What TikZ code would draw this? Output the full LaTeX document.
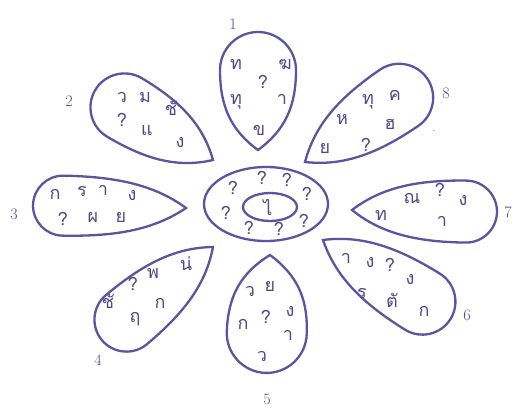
\documentclass[tikz,border=0pt]{standalone}
\usepackage{fontspec}
\newfontfamily\thaifont[Script=Thai]{Loma}
\definecolor{ink}{RGB}{92,84,160}
\definecolor{txt}{RGB}{82,72,135}
\newcommand\petal[5]{%
  \begin{scope}[shift={(#1,#2)},rotate=#3]
    \draw[petalline] (0,0)
      .. controls ({0.25*(#4-#5)},{0.72*#5}) and ({0.55*(#4-#5)},{#5}) .. ({#4-#5},{#5})
      .. controls ({#4-0.45*#5},{#5}) and ({#4},{0.552*#5}) .. ({#4},0)
      .. controls ({#4},{-0.552*#5}) and ({#4-0.45*#5},{-#5}) .. ({#4-#5},{-#5})
      .. controls ({0.55*(#4-#5)},{-#5}) and ({0.25*(#4-#5)},{-0.72*#5}) .. cycle;
  \end{scope}}
\begin{document}
\begin{tikzpicture}[x=1pt,y=-1pt,
  petalline/.style={draw=ink,line width=2.3pt},
  th/.style={text=txt,font=\thaifont\fontsize{18}{18}\selectfont,inner sep=0pt},
  num/.style={text=txt,font=\fontsize{16}{16}\selectfont,inner sep=0pt}]
\useasboundingbox (0,0) rectangle (515,410);
\fill[white] (0,0) rectangle (515,410);
% petals
\petal{258}{150}{90}{118}{38}
\petal{213}{160}{149.3}{137}{34}
\petal{186}{208}{178.9}{153}{30}
\petal{305}{162}{34.3}{148}{34}
\petal{352}{210}{-0.8}{145}{31}
\petal{323}{240}{-31.8}{150}{33}
\petal{270}{255}{267.6}{118}{40}
\petal{213}{247}{-140}{145}{32}
% centre
\draw[petalline] (266,204) ellipse [x radius=62,y radius=37];
\draw[petalline] (270,207) ellipse [x radius=27,y radius=14];
% numbers
\node[num] (n1) at (233,24) {1};
\node[num] (n2) at (69,101) {2};
\node[num] (n3) at (14,214) {3};
\node[num] (n4) at (98,360) {4};
\node[num] (n5) at (267,399) {5};
\node[num] (n6) at (467,315) {6};
\node[num] (n7) at (508,212) {7};
\node[num] (n8) at (446,93) {8};
% petal 1
\node[th] (a1) at (236,64) {ท};
\node[th] (a2) at (285,64) {ฆ};
\node[th] (a3) at (263,82) {?};
\node[th] (a4) at (236,102) {ทุ};
\node[th] (a5) at (282,99) {า};
\node[th] (a6) at (259,130) {ข};
% petal 2
\node[th] (b1) at (122,97) {ว};
\node[th] (b2) at (145,97) {ม};
\node[th] (b3) at (171,108) {ชั};
\node[th] (b4) at (122,120) {?};
\node[th] (b5) at (147,130) {แ};
\node[th] (b6) at (180,142) {ง};
% petal 3
\node[th] (c1) at (55,194) {ก};
\node[th] (c2) at (82,191) {ร};
\node[th] (c3) at (103,190) {า};
\node[th] (c4) at (132,195) {ง};
\node[th] (c5) at (63,219) {?};
\node[th] (c6) at (93,217) {ผ};
\node[th] (c7) at (121,217) {ย};
% petal 8
\node[th] (h1) at (368,102) {ทุ};
\node[th] (h2) at (395,95) {ค};
\node[th] (h3) at (342,119) {ห};
\node[th] (h4) at (390,124) {ฮ};
\node[th] (h5) at (325,148) {ย};
\node[th] (h6) at (366,145) {?};
\node[inner sep=0pt,text=txt] (h7) at (434,131) {.};
% petal 7
\node[th] (g1) at (381,215) {ท};
\node[th] (g2) at (412,198) {ณ};
\node[th] (g3) at (440,190) {?};
\node[th] (g4) at (463,200) {ง};
\node[th] (g5) at (442,221) {า};
% centre marks
\node[th] (m1) at (233,188) {?};
\node[th] (m2) at (262,178) {?};
\node[th] (m3) at (287,180) {?};
\node[th] (m4) at (307,194) {?};
\node[th] (m5) at (226,213) {?};
\node[th] (m6) at (304,221) {?};
\node[th] (m7) at (249,228) {?};
\node[th] (m8) at (279,229) {?};
\node[th] (m0) at (268,207) {ไ};
% petal 6
\node[th] (f1) at (346,258) {า};
\node[th] (f2) at (370,262) {ง};
\node[th] (f3) at (390,265) {?};
\node[th] (f4) at (410,279) {ง};
\node[th] (f5) at (362,293) {ร};
\node[th] (f6) at (392,300) {ตั};
\node[th] (f7) at (424,311) {ก};
% petal 5
\node[th] (e1) at (250,291) {ว};
\node[th] (e2) at (270,286) {ย};
\node[th] (e3) at (290,311) {ง};
\node[th] (e4) at (243,324) {ก};
\node[th] (e5) at (266,317) {?};
\node[th] (e6) at (288,335) {า};
\node[th] (e7) at (262,356) {ว};
% petal 4
\node[th] (d1) at (133,284) {?};
\node[th] (d2) at (153,273) {พ};
\node[th] (d3) at (186,264) {น่};
\node[th] (d4) at (108,301) {ชั};
\node[th] (d5) at (135,319) {ฤ};
\node[th] (d6) at (160,303) {ก};
\end{tikzpicture}
\end{document}
